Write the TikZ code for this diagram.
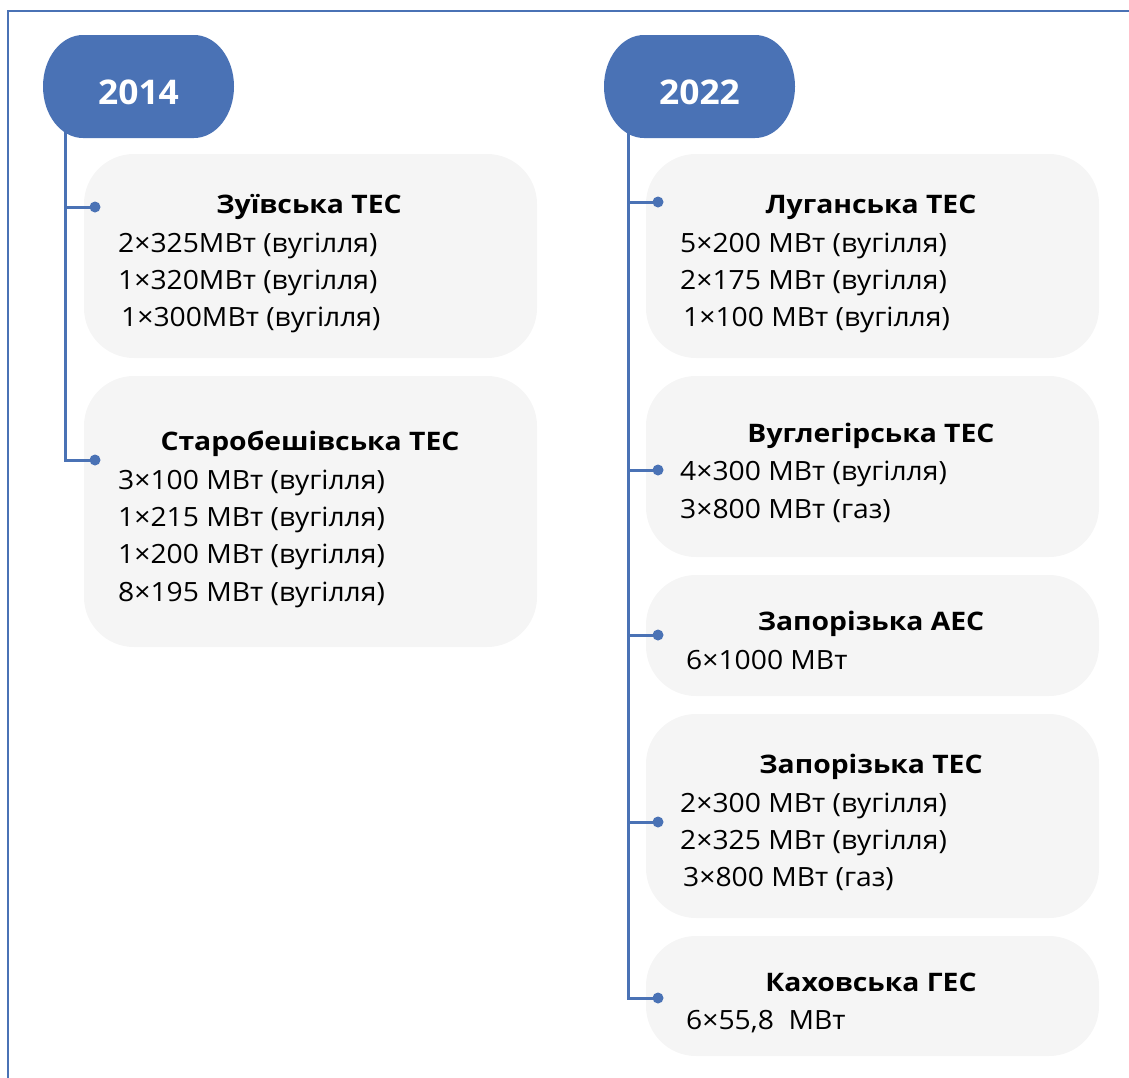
\documentclass[tikz,border=0pt]{standalone}
\usepackage{fontspec}
\setmainfont{Open Sans}
\newfontfamily\bodyf{Open Sans}[FakeStretch=1.066]
\newfontfamily\ttlf{Open Sans}[FakeStretch=1.11]
\newfontfamily\yearf{Open Sans}[FakeStretch=1.04]
\definecolor{tlblue}{HTML}{4A72B5}
\definecolor{boxgray}{HTML}{F5F5F5}
\begin{document}
\begin{tikzpicture}[x=1pt,y=-1pt,
 pillbg/.style={fill=tlblue},
 pill/.style={minimum width=191pt, minimum height=103pt, inner sep=0pt, text=white, text height=35pt, text depth=0pt, font=\yearf\fontsize{34}{40}\selectfont\bfseries},
 card/.style={fill=boxgray, rounded corners=50pt, minimum width=453pt, inner sep=0pt},
 ttl/.style={font=\ttlf\fontsize{25.5}{30}\selectfont\bfseries, anchor=base, inner sep=0pt},
 txt/.style={font=\bodyf\fontsize{26.5}{30}\selectfont, anchor=base west, inner sep=0pt},
 dot/.style={circle, fill=tlblue, minimum size=11pt, inner sep=0pt},
 conn/.style={draw=tlblue, line width=3pt},
 frame/.style={draw=tlblue, line width=2pt}]
\useasboundingbox (0,0) rectangle (1129,1077);
\draw[frame] (8,1080) -- (8,11) -- (1132,11);

% cards
\node[card, minimum height=204pt] (c1) at (310.5,256) {};
\node[card, minimum height=271pt] (c2) at (310.5,511.5) {};
\node[card, minimum height=204pt] (r1) at (872.5,256) {};
\node[card, minimum height=181pt] (r2) at (872.5,466.5) {};
\node[card, minimum height=121pt] (r3) at (872.5,635.5) {};
\node[card, minimum height=204pt] (r4) at (872.5,816) {};
\node[card, minimum height=120pt] (r5) at (872.5,996) {};

% dots
\node[dot] (dl1) at (95,207) {};
\node[dot] (dl2) at (95,460) {};
\node[dot] (dr1) at (658,202) {};
\node[dot] (dr2) at (658,470) {};
\node[dot] (dr3) at (658,635) {};
\node[dot] (dr4) at (658,822) {};
\node[dot] (dr5) at (658,998) {};

\coordinate (tl) at (65,128);
\coordinate (tr) at (628,128);
\draw[conn] (tl) |- (dl2.center);
\draw[conn] (dl1.center -| tl) -- (dl1.center);
\draw[conn] (tr) |- (dr5.center);
\foreach \d in {dr1,dr2,dr3,dr4} \draw[conn] (\d.center -| tr) -- (\d.center);

% pills (elliptic ends)
\foreach \c in {(138.5,86.5),(699.5,86.5)}{
  \fill[pillbg] \c ++(-55.5pt,51.5pt) -- ++(111pt,0pt)
    arc[start angle=90, end angle=-90, x radius=40pt, y radius=51.5pt]
    -- ++(-111pt,0pt)
    arc[start angle=270, end angle=90, x radius=40pt, y radius=51.5pt] -- cycle;
}
\node[pill] (y2014) at (138.5,86.5) {2014};
\node[pill] (y2022) at (699.5,86.5) {2022};

% left texts
\node[ttl] (t1) at (309,213) {Зуївська ТЕС};
\node[txt] (a1) at (118,252) {2×325МВт (вугілля)};
\node[txt] (a2) at (118,289) {1×320МВт (вугілля)};
\node[txt] (a3) at (121,326) {1×300МВт (вугілля)};

\node[ttl] (t2) at (310,450) {Старобешівська ТЕС};
\node[txt] (b1) at (118,489) {3×100 МВт (вугілля)};
\node[txt] (b2) at (118,526) {1×215 МВт (вугілля)};
\node[txt] (b3) at (118,563) {1×200 МВт (вугілля)};
\node[txt] (b4) at (118,601) {8×195 МВт (вугілля)};

% right texts
\node[ttl] (t3) at (871,213) {Луганська ТЕС};
\node[txt] (e1) at (680,252) {5×200 МВт (вугілля)};
\node[txt] (e2) at (680,289) {2×175 МВт (вугілля)};
\node[txt] (e3) at (683,326) {1×100 МВт (вугілля)};

\node[ttl] (t4) at (871,442) {Вуглегірська ТЕС};
\node[txt] (f1) at (680,480) {4×300 МВт (вугілля)};
\node[txt] (f2) at (680,518) {3×800 МВт (газ)};

\node[ttl] (t5) at (871,630) {Запорізька АЕС};
\node[txt] (g1) at (686,669) {6×1000 МВт};

\node[ttl] (t6) at (871,773) {Запорізька ТЕС};
\node[txt] (h1) at (680,812) {2×300 МВт (вугілля)};
\node[txt] (h2) at (680,849) {2×325 МВт (вугілля)};
\node[txt] (h3) at (683,886) {3×800 МВт (газ)};

\node[ttl] (t7) at (871,991) {Каховська ГЕС};
\node[txt] (k1) at (686,1029) {6×55,8\ \ МВт};
\end{tikzpicture}
\end{document}
